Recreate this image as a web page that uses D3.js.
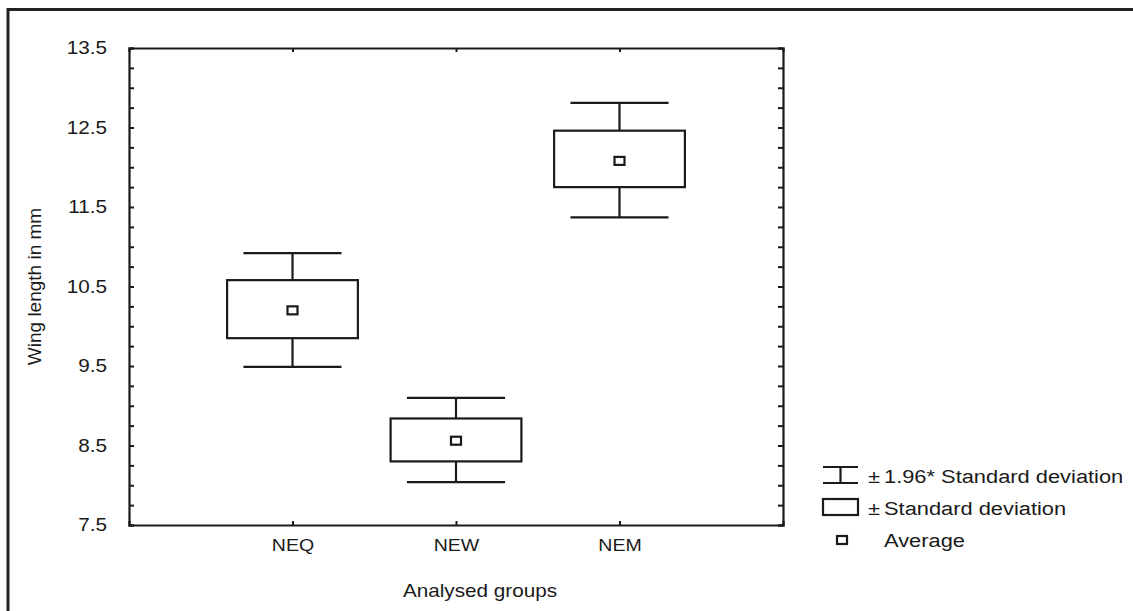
<!DOCTYPE html>
<html>
<head>
<meta charset="utf-8">
<script src="https://cdn.jsdelivr.net/npm/d3@7"></script>
<style>
  body { margin: 0; background: #fff; }
  text { font-family: "Liberation Sans", Arial, sans-serif; fill: #1a1a1a; }
</style>
</head>
<body>
<svg id="chart"></svg>
<script>
// Data
const groups = ["NEQ", "NEW", "NEM"];
const means = [10.20, 8.56, 12.08];
const sdLow = [9.85, 8.30, 11.75];
const sdHigh = [10.58, 8.84, 12.46];
const ciLow = [9.49, 8.04, 11.37];
const ciHigh = [10.92, 9.10, 12.81];
const yTicks = [7.5, 8.5, 9.5, 10.5, 11.5, 12.5, 13.5];
const legendLabels = ["1.96* Standard deviation", "Standard deviation", "Average"];

const W = 1133, H = 611;
const margin = { top: 48, right: 350, bottom: 86, left: 129 };
const width = W - margin.left - margin.right;
const height = H - margin.top - margin.bottom;
const stretch = 1.15; // reference text is a little wider than Arial

const svg = d3.select("#chart").attr("width", W).attr("height", H);

// outer frame (top and left edges only)
svg.append("path")
    .attr("d", `M8,${H} V9.5 H${W}`)
    .attr("fill", "none").attr("stroke", "#222").attr("stroke-width", 3);

const g = svg.append("g").attr("transform", `translate(${margin.left},${margin.top})`);

const x = d3.scalePoint().domain(groups).range([0, width]).padding(1);
const y = d3.scaleLinear().domain([7.5, 13.5]).range([height, 0]);
const step = x.step();

// move x/y of a text into a transform so it can be widened
function widen(sel) {
  sel.each(function() {
    const t = d3.select(this);
    const tx = +t.attr("x") || 0, ty = +t.attr("y") || 0;
    t.attr("x", 0).attr("y", 0)
     .attr("transform", `translate(${tx},${ty}) scale(${stretch},1)`);
  });
}

// minor ticks every 0.25
const minor = d3.range(7.5, 13.51, 0.25);

// left axis
const left = g.append("g")
    .call(d3.axisLeft(y).tickValues(minor).tickSize(-5).tickPadding(22)
      .tickFormat(d => yTicks.includes(+d.toFixed(2)) ? d3.format(".1f")(d) : ""));
left.selectAll("text").style("font-size", "18px").attr("fill", "#1a1a1a");
widen(left.selectAll("text"));

// right axis
const right = g.append("g").attr("transform", `translate(${width},0)`)
    .call(d3.axisRight(y).tickValues(minor).tickSize(-5).tickFormat(""));

// bottom axis
const bottom = g.append("g").attr("transform", `translate(0,${height})`)
    .call(d3.axisBottom(x).tickSize(-4).tickPadding(14));
bottom.selectAll("text").style("font-size", "17px").attr("fill", "#1a1a1a");
widen(bottom.selectAll("text"));

// top axis
g.append("g")
    .call(d3.axisTop(x).tickSize(-4).tickFormat(""));

g.selectAll(".domain").attr("stroke", "#1a1a1a").attr("stroke-width", 2.2);
g.selectAll(".tick line").attr("stroke", "#1a1a1a").attr("stroke-width", 2);

// boxes
const items = g.selectAll(".item")
  .data(groups.map((k, i) => ({ k, mean: means[i], lo: sdLow[i], hi: sdHigh[i], wl: ciLow[i], wh: ciHigh[i] })))
  .enter().append("g")
    .attr("class", "item")
    .attr("fill", "none").attr("stroke", "#1a1a1a").attr("stroke-width", 2.2);

const boxHalf = step * 0.4, capHalf = step * 0.3;

// whisker stems
items.append("line")
    .attr("x1", d => x(d.k)).attr("x2", d => x(d.k))
    .attr("y1", d => y(d.wh)).attr("y2", d => y(d.hi));
items.append("line")
    .attr("x1", d => x(d.k)).attr("x2", d => x(d.k))
    .attr("y1", d => y(d.lo)).attr("y2", d => y(d.wl));
// caps
items.append("line")
    .attr("x1", d => x(d.k) - capHalf).attr("x2", d => x(d.k) + capHalf)
    .attr("y1", d => y(d.wh)).attr("y2", d => y(d.wh));
items.append("line")
    .attr("x1", d => x(d.k) - capHalf).attr("x2", d => x(d.k) + capHalf)
    .attr("y1", d => y(d.wl)).attr("y2", d => y(d.wl));
// sd box
items.append("rect")
    .attr("x", d => x(d.k) - boxHalf).attr("width", boxHalf * 2)
    .attr("y", d => y(d.hi)).attr("height", d => y(d.lo) - y(d.hi));
// mean marker
items.append("rect")
    .attr("x", d => x(d.k) - 5).attr("y", d => y(d.mean) - 4)
    .attr("width", 10).attr("height", 8);

// axis titles
svg.append("text")
    .attr("transform", `translate(41,${margin.top + height / 2}) rotate(-90)`)
    .attr("text-anchor", "middle")
    .style("font-size", "19px")
    .text("Wing length in mm");

svg.append("text")
    .attr("x", 480).attr("y", 597)
    .attr("text-anchor", "middle")
    .style("font-size", "18px")
    .call(widen)
    .text("Analysed groups");

// legend
const leg = svg.append("g").attr("transform", "translate(823,0)");
const stroke = s => s.attr("fill", "none").attr("stroke", "#1a1a1a").attr("stroke-width", 2.2);

leg.append("path").attr("d", "M0,467 H35 M17.5,467 V483 M0,483 H35").call(stroke);
leg.append("rect").attr("x", 0).attr("y", 499).attr("width", 35).attr("height", 16).call(stroke);
leg.append("rect").attr("x", 14).attr("y", 536).attr("width", 10).attr("height", 8).call(stroke);

const rowsY = [483, 515, 547];
leg.selectAll(".pm").data([0, 1]).enter().append("text")
    .attr("x", 45).attr("y", i => rowsY[i])
    .style("font-size", "19px")
    .call(widen)
    .text("±");
leg.selectAll(".lab").data(legendLabels).enter().append("text")
    .attr("x", 61).attr("y", (d, i) => rowsY[i])
    .style("font-size", "19px")
    .call(widen)
    .text(d => d);
</script>
</body>
</html>
